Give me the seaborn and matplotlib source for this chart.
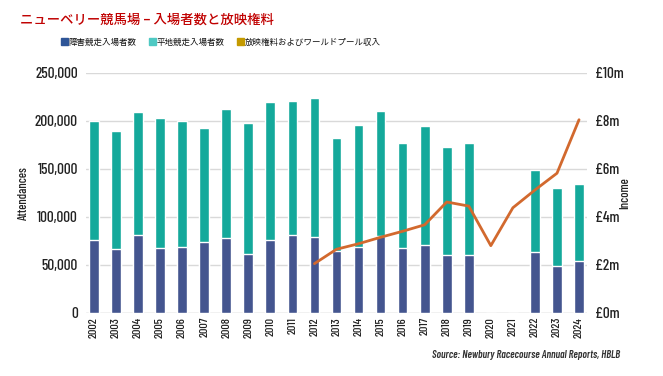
import numpy as np
import pandas as pd
import matplotlib
matplotlib.use("Agg")
import matplotlib.pyplot as plt
import seaborn as sns
from matplotlib import font_manager
from matplotlib.patches import Patch
from matplotlib.ticker import FuncFormatter

years = [str(y) for y in range(2002, 2025)]
jump = [76000, 67000, 81000, 68000, 69000, 74000, 78000, 61000, 76000, 81000, 79000,
        64000, 69000, 80000, 68000, 71000, 60000, 60000, 0, 0, 63000, 49000, 54000]
total = [200000, 189000, 209000, 203000, 200000, 193000, 212000, 198000, 220000, 221000, 224000,
         182000, 196000, 210000, 177000, 195000, 173000, 177000, 0, 0, 149000, 130000, 134000]
income_years = [str(y) for y in range(2012, 2025)]
income = [2.05, 2.65, 2.88, 3.15, 3.4, 3.67, 4.62, 4.45, 2.8, 4.38, 5.12, 5.82, 8.05]

# condensed faces for the numbers, if any are around
files = {f.fname.split("/")[-1]: f.fname for f in font_manager.fontManager.ttflist}


def pick(candidates, **fallback):
    for c in candidates:
        if c in files:
            return font_manager.FontProperties(fname=files[c])
    return font_manager.FontProperties(family="DejaVu Sans", **fallback)


fp = pick(["BarlowCondensed-Medium.ttf", "BarlowCondensed-Regular.ttf",
           "RobotoCondensed-Regular.ttf", "DejaVuSansCondensed.ttf"], stretch="condensed")
fp_src = pick(["BarlowCondensed-SemiBoldItalic.ttf", "BarlowCondensed-MediumItalic.ttf",
               "RobotoCondensed-BoldItalic.ttf", "DejaVuSansCondensed-BoldOblique.ttf"],
              style="italic", weight="bold")
cond = "DejaVu" not in (fp.get_file() or "DejaVu")

sns.set_style("white")
plt.rcParams['font.family'] = ['Noto Sans CJK JP', 'DejaVu Sans']

df = pd.DataFrame({"year": years, "jump": jump, "total": total})

fig = plt.figure(figsize=(6.63, 3.76), dpi=100)
ax = fig.add_axes([0.130, 0.168, 0.755, 0.638])

sns.barplot(data=df, x="year", y="total", color="#14A99B", width=0.44,
            saturation=1, ax=ax, zorder=2)
sns.barplot(data=df, x="year", y="jump", color="#44558F", width=0.44,
            saturation=1, ax=ax, zorder=3)

ax.set_ylim(0, 250000)
ax.set_xlim(-0.35, 22.35)
ax.set_yticks(range(0, 250001, 50000))
ax.yaxis.set_major_formatter(FuncFormatter(lambda v, p: f"{int(v):,}"))
ax.grid(axis="y", color="#d9d9d9", linewidth=1, zorder=0)
ax.set_axisbelow(True)
for s in ax.spines.values():
    s.set_visible(False)
ax.axhline(0, color="#d9d9d9", linewidth=1, zorder=1)
ax.set_xlabel("")

big = 11 if cond else 9.5
small = 8.8 if cond else 7.5
lab_sz = 9 if cond else 7.5
ax.set_ylabel("Attendances", fontproperties=fp, fontsize=lab_sz, color="#222222")
ax.yaxis.set_label_coords(-0.112, 0.5)
ax.tick_params(axis="x", labelrotation=90, length=0, pad=3)
ax.tick_params(axis="y", length=0, pad=6)
for lab in ax.get_xticklabels():
    lab.set_fontproperties(fp)
    lab.set_fontsize(small)
    lab.set_color("#222222")
for lab in ax.get_yticklabels():
    lab.set_fontproperties(fp)
    lab.set_fontsize(big)
    lab.set_color("#222222")

ax2 = ax.twinx()
xpos = [years.index(y) for y in income_years]
sns.lineplot(x=xpos, y=income, color="#D2692E", linewidth=2.0, ax=ax2, zorder=4)
ax2.set_ylim(0, 10)
ax2.set_yticks(range(0, 11, 2))
ax2.yaxis.set_major_formatter(FuncFormatter(lambda v, p: f"£{int(v)}m"))
ax2.tick_params(axis="y", length=0, pad=6)
for lab in ax2.get_yticklabels():
    lab.set_fontproperties(fp)
    lab.set_fontsize(big)
    lab.set_color("#222222")
ax2.set_ylabel("Income", fontproperties=fp, fontsize=lab_sz, color="#222222")
ax2.yaxis.set_label_coords(1.065, 0.5)
ax2.grid(False)
for s in ax2.spines.values():
    s.set_visible(False)

fig.text(0.03, 0.947, "ニューベリー競馬場 – 入場者数と放映権料", color="#C00000",
         fontsize=9.6, weight="medium", ha="left", va="center")

handles = [Patch(color="#2E5597"), Patch(color="#4FC9C3"), Patch(color="#C49A00")]
labels = ["障害競走入場者数", "平地競走入場者数", "放映権料およびワールドプール収入"]
fig.legend(handles, labels, loc="center left", bbox_to_anchor=(0.092, 0.888),
           ncol=3, frameon=False, fontsize=6.1, handlelength=0.8, handleheight=0.8,
           handletextpad=0.1, columnspacing=1.45, borderaxespad=0, borderpad=0,
           labelcolor="#111111")

fig.text(0.935, 0.057, "Source: Newbury Racecourse Annual Reports, HBLB", ha="right",
         va="center", fontproperties=fp_src, fontsize=7.7 if cond else 5.5,
         color="#333333")

fig.savefig("out.png", dpi=100)
